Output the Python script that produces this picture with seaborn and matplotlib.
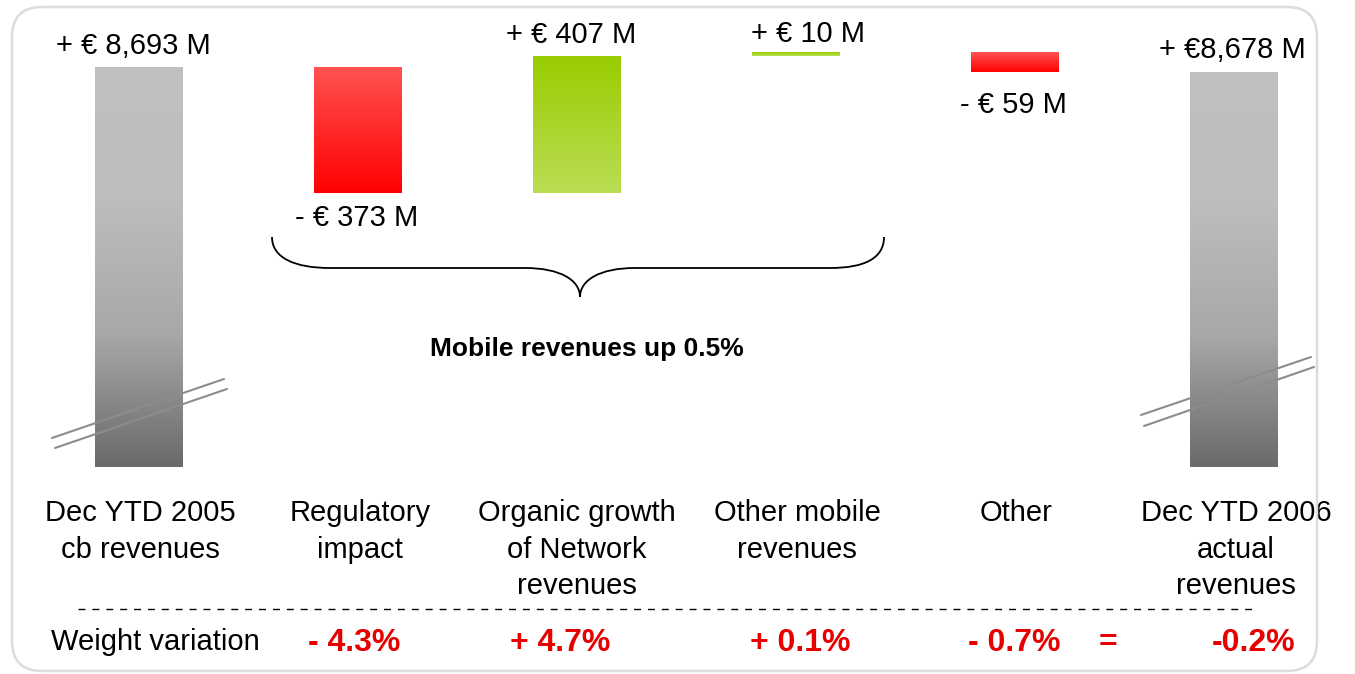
import numpy as np
import pandas as pd
import matplotlib
matplotlib.use("Agg")
import matplotlib.pyplot as plt
import matplotlib.transforms as mtransforms
import seaborn as sns
from matplotlib.patches import FancyBboxPatch, PathPatch
from matplotlib.path import Path
from matplotlib.lines import Line2D
from matplotlib.colors import LinearSegmentedColormap

# revenue bridge, EUR M
categories = ["Dec YTD 2005\ncb revenues", "Regulatory\nimpact",
              "Organic growth\nof Network\nrevenues", "Other mobile\nrevenues",
              "Other", "Dec YTD 2006\nactual\nrevenues"]
start_value = 8693
changes = [-373, 407, 10, -59]
end_value = 8678
value_labels = ["+ € 8,693 M", "- € 373 M", "+ € 407 M", "+ € 10 M", "- € 59 M", "+ €8,678 M"]
weight_title = "Weight variation"
weight_labels = ["- 4.3%", "+ 4.7%", "+ 0.1%", "- 0.7%", "-0.2%"]
brace_text = "Mobile revenues up 0.5%"

# the totals are cut at this level (broken axis)
axis_floor = 7509

# build the waterfall
tops, bottoms, kinds = [start_value], [axis_floor], ["total"]
running = start_value
for c in changes:
    bottoms.append(min(running, running + c))
    tops.append(max(running, running + c))
    kinds.append("up" if c > 0 else "down")
    running += c
tops.append(end_value)
bottoms.append(axis_floor)
kinds.append("total")
df = pd.DataFrame({"category": categories, "top": tops, "bottom": bottoms, "kind": kinds})

sns.set_style("white")
plt.rcParams["font.family"] = ["Liberation Sans", "DejaVu Sans"]

W, H = 1355, 674
fig = plt.figure(figsize=(W / 100, H / 100), dpi=100)
ax = fig.add_axes([0, 0, 1, 1])

sns.barplot(data=df, x="category", y="top", order=categories, width=0.4,
            color="white", errorbar=None, ax=ax)

cmaps = {
    "total": LinearSegmentedColormap.from_list("g", ["#6a6a6a", "#a8a8a8", "#bdbdbd", "#c0c0c0"]),
    "down": LinearSegmentedColormap.from_list("r", ["#ff0000", "#ff5252"]),
    "up": LinearSegmentedColormap.from_list("u", ["#bade55", "#99cc00"]),
}
grad = np.linspace(0, 1, 256).reshape(-1, 1)
for patch, (_, row) in zip(ax.patches, df.iterrows()):
    patch.set_y(row["bottom"])
    patch.set_height(row["top"] - row["bottom"])
    patch.set_facecolor("none")
    patch.set_linewidth(0)
    x0 = patch.get_x()
    im = ax.imshow(grad, cmap=cmaps[row["kind"]], origin="lower", aspect="auto",
                   extent=[x0, x0 + patch.get_width(), row["bottom"], row["top"]], zorder=2)
    im.set_clip_path(patch)

# place the category centres where the picture has them
ax.set_xlim(-139 / 219, (W - 139) / 219)
ax.set_ylim(start_value - (H - 67) / 0.3378, start_value + 67 / 0.3378)
ax.axis("off")

# value labels, offsets in pixels
offsets = [(-6, 21), (-1, -25), (-6, 21), (12, 18), (-2, -33), (-2, 22)]
for i, (lab, (dx, dy)) in enumerate(zip(value_labels, offsets)):
    anchor = df["bottom"][i] if df["kind"][i] == "down" else df["top"][i]
    ax.annotate(lab, xy=(i, anchor), xytext=(dx, dy), textcoords="offset pixels",
                ha="center", va="center", fontsize=21, color="black", zorder=5)

# helpers for pixel positions measured from the top-left corner
pix = mtransforms.Affine2D().scale(1 / 100) + fig.dpi_scale_trans
xax = ax.get_xaxis_transform()


def fy(py):
    return 1 - py / H


# category labels, line by line
label_dx = [1, 2, 0, 1, 1, 2]
for i, (lab, dx) in enumerate(zip(categories, label_dx)):
    for k, line in enumerate(lab.split("\n")):
        ax.text(i + dx / 219, fy(521 + 36.5 * k), line, transform=xax, ha="center",
                va="baseline", fontsize=21, color="black")

# weight variation row
ax.text((155 - 139) / 219, fy(650), weight_title, transform=xax, ha="center",
        va="baseline", fontsize=21, color="black")
pct_dx = [-4, -17, 4, -1, 20]
for i, (lab, dx) in enumerate(zip(weight_labels, pct_dx)):
    ax.text(i + 1 + dx / 219, fy(651), lab, transform=xax, ha="center", va="baseline",
            fontsize=23, fontweight="bold", color="#e60000")
ax.text((1108 - 139) / 219, fy(651), "=", transform=xax, ha="center", va="baseline",
        fontsize=23, fontweight="bold", color="#e60000")

# dashed separator
fig.add_artist(Line2D([78, 1258], [H - 609, H - 609], transform=pix, color="black",
                      lw=1, dashes=(5, 5)))

# brace over the mobile items
verts = [(272, 237), (272, 258), (295, 268), (330, 268), (525, 268),
         (560, 268), (580, 280), (580, 297),
         (580, 280), (600, 268), (635, 268), (830, 268),
         (865, 268), (884, 258), (884, 237)]
codes = [Path.MOVETO, Path.CURVE4, Path.CURVE4, Path.CURVE4, Path.LINETO,
         Path.CURVE4, Path.CURVE4, Path.CURVE4,
         Path.CURVE4, Path.CURVE4, Path.CURVE4, Path.LINETO,
         Path.CURVE4, Path.CURVE4, Path.CURVE4]
brace = Path([(x, H - y) for x, y in verts], codes)
fig.add_artist(PathPatch(brace, transform=pix, facecolor="none", edgecolor="black", lw=1.3))
ax.text((587 - 139) / 219, fy(356), brace_text, transform=xax, ha="center",
        va="baseline", fontsize=19, fontweight="bold", color="black")

# axis break marks
for (x1, y1, x2, y2) in [(52, 438, 224, 379), (55, 448, 227, 389),
                         (1141, 415, 1311, 357), (1144, 426, 1314, 367)]:
    fig.add_artist(Line2D([x1, x2], [H - y1, H - y2], transform=pix, color="#8c8c8c",
                          lw=1.5, zorder=6))

# rounded frame
fig.add_artist(FancyBboxPatch((12, H - 671), 1305, 664, transform=pix,
                              boxstyle="round,pad=0,rounding_size=30",
                              facecolor="none", edgecolor="#dcdcdc", lw=1.8))

fig.savefig("out.png", dpi=100)
